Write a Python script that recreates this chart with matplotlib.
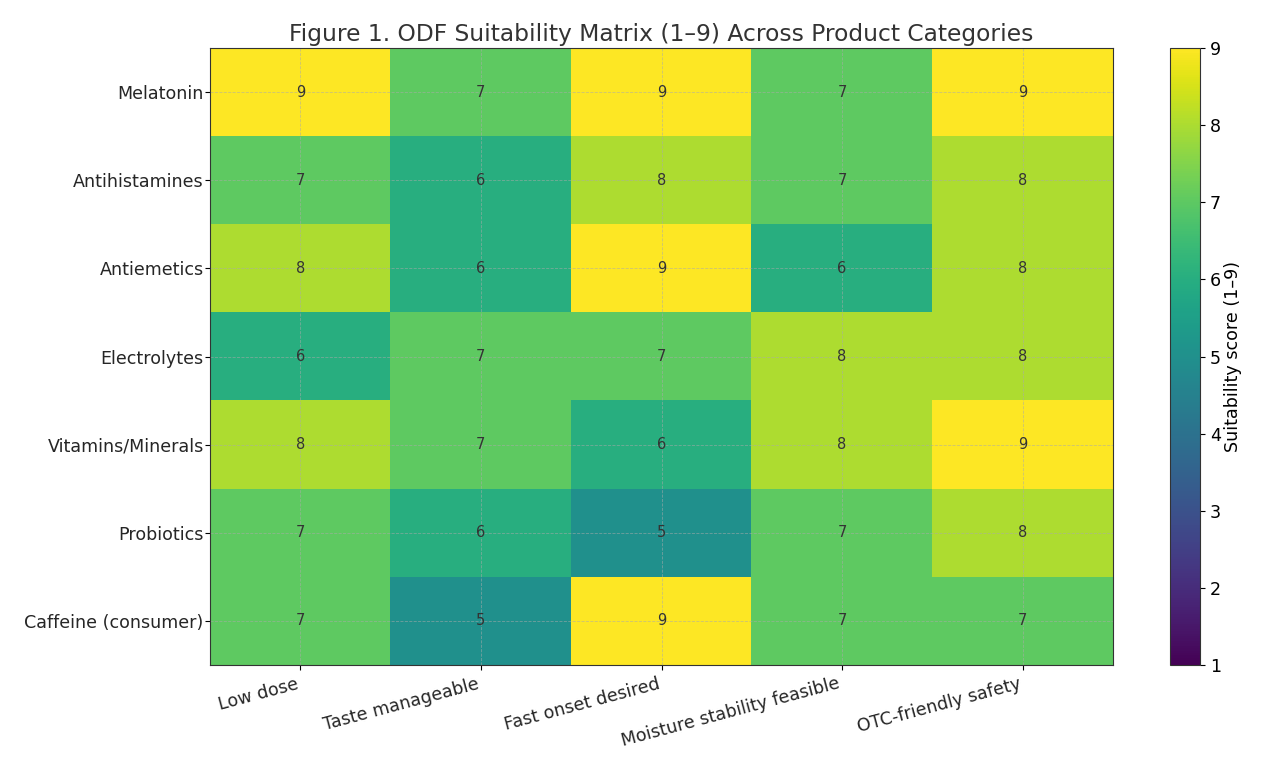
import matplotlib.pyplot as plt
import numpy as np

categories = ["Melatonin", "Antihistamines", "Antiemetics", "Electrolytes",
              "Vitamins/Minerals", "Probiotics", "Caffeine (consumer)"]
criteria = ["Low dose", "Taste manageable", "Fast onset desired",
            "Moisture stability feasible", "OTC-friendly safety"]
scores = [
    [9, 7, 9, 7, 9],
    [7, 6, 8, 7, 8],
    [8, 6, 9, 6, 8],
    [6, 7, 7, 8, 8],
    [8, 7, 6, 8, 9],
    [7, 6, 5, 7, 8],
    [7, 5, 9, 7, 7],
]


def main():
    data = np.array(scores)
    fig = plt.figure(figsize=(12.83, 7.64), dpi=100)
    ax = fig.add_axes([210 / 1283, 99 / 764, 903 / 1283, 617 / 764])
    cax = fig.add_axes([1170 / 1283, 99 / 764, 30 / 1283, 617 / 764])

    im = ax.imshow(data, cmap="viridis", vmin=1, vmax=9, aspect="auto")
    ax.set_xticks(range(len(criteria)))
    ax.set_xticklabels(criteria, rotation=15, ha="right", fontsize=12.6, color="#262626")
    ax.set_yticks(range(len(categories)))
    ax.set_yticklabels(categories, fontsize=12.6, color="#262626")
    ax.tick_params(axis="y", pad=1)
    ax.grid(True, linestyle="--", linewidth=0.6, color="#aaaaaa", alpha=0.6)
    for s in ax.spines.values():
        s.set_color("#333333")

    for i in range(data.shape[0]):
        for j in range(data.shape[1]):
            ax.text(j, i, str(data[i, j]), ha="center", va="center",
                    fontsize=10.5, color="#333333")

    ax.set_title("Figure 1. ODF Suitability Matrix (1–9) Across Product Categories",
                 fontsize=16.8, color="#333333", pad=5)

    cb = fig.colorbar(im, cax=cax)
    cb.set_ticks(range(1, 10))
    cb.ax.tick_params(labelsize=12.6)
    cb.set_label("Suitability score (1–9)", fontsize=12.6, labelpad=2)
    cb.outline.set_edgecolor("#333333")

    fig.savefig("out.png", dpi=100)


if __name__ == "__main__":
    main()
